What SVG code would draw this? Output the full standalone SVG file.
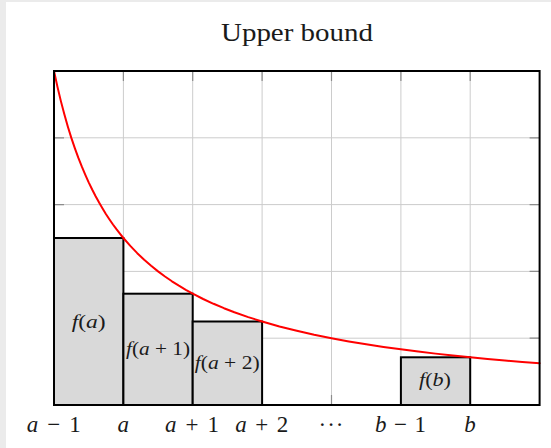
<svg xmlns="http://www.w3.org/2000/svg" width="551" height="448" viewBox="0 0 551 448">
  <style>
    .grid { stroke: #cccccc; stroke-width: 1; fill: none; }
    .tick { stroke: #8c8c8c; stroke-width: 1.2; fill: none; }
    .bar { fill: #d9d9d9; stroke: #000000; stroke-width: 2; }
    .frame { fill: none; stroke: #000000; stroke-width: 2; }
    .curve { fill: none; stroke: #ff0000; stroke-width: 2; stroke-linejoin: round; stroke-linecap: round; }
    .serif { font-family: "Liberation Serif", "DejaVu Serif", serif; fill: #1a1a1a; }
    .it { font-style: italic; }
    .lab { font-size: 23px; }
    .inner { font-size: 18px; }
  </style>
  <rect x="0" y="0" width="551" height="448" fill="#ebebeb"/>
  <rect x="6" y="2" width="545" height="446" fill="#ffffff"/>

  <text id="title" class="serif" x="221" y="41" font-size="25" textLength="152" lengthAdjust="spacingAndGlyphs">Upper bound</text>

  <g id="grid">
    <path class="grid" d="M123.4 71V405M192.7 71V405M262.1 71V405M331.5 71V405M400.9 71V405M470.2 71V405M54 137.8H539.6M54 204.6H539.6M54 271.4H539.6M54 338.2H539.6"/>
    <path class="tick" d="M123.4 71v10M192.7 71v10M262.1 71v10M331.5 71v10M400.9 71v10M470.2 71v10M123.4 405v-10M192.7 405v-10M262.1 405v-10M331.5 405v-10M400.9 405v-10M470.2 405v-10M54 137.8h10M54 204.6h10M54 271.4h10M54 338.2h10M539.6 137.8h-10M539.6 204.6h-10M539.6 271.4h-10M539.6 338.2h-10"/>
  </g>

  <g id="bar-fa">
    <rect class="bar" x="54" y="238" width="69.4" height="167"/>
    <text class="serif inner" x="88.7" y="328" text-anchor="middle" textLength="34" lengthAdjust="spacingAndGlyphs"><tspan class="it">f</tspan>(<tspan class="it">a</tspan>)</text>
  </g>
  <g id="bar-fa1">
    <rect class="bar" x="123.4" y="293.7" width="69.3" height="111.3"/>
    <text class="serif inner" x="158" y="355" text-anchor="middle" textLength="64" lengthAdjust="spacingAndGlyphs"><tspan class="it">f</tspan>(<tspan class="it">a</tspan> + 1)</text>
  </g>
  <g id="bar-fa2">
    <rect class="bar" x="192.7" y="321.5" width="69.4" height="83.5"/>
    <text class="serif inner" x="227.2" y="369" text-anchor="middle" textLength="65" lengthAdjust="spacingAndGlyphs"><tspan class="it">f</tspan>(<tspan class="it">a</tspan> + 2)</text>
  </g>
  <g id="bar-fb">
    <rect class="bar" x="400.9" y="357.3" width="69.3" height="47.7"/>
    <text class="serif inner" x="435" y="386" text-anchor="middle" textLength="32" lengthAdjust="spacingAndGlyphs"><tspan class="it">f</tspan>(<tspan class="it">b</tspan>)</text>
  </g>

  <g id="connectors">
    <polyline id="curve" class="curve" points="54,71 57.47,86.9 60.94,101.36 64.41,114.57 67.87,126.67 71.34,137.9 74.81,148.08 78.28,157.7 81.75,166.43 85.22,174.6 88.69,182.33 92.16,189.5 95.62,196.25 99.09,202.6 102.56,208.53 106.03,214.2 109.5,219.44 112.97,224.5 116.43,229.21 119.9,233.7 123.37,238 130.3,245.9 137.24,253.18 144.18,259.8 151.12,265.83 158.05,271.4 164.99,276.54 171.93,281.3 178.87,285.71 185.8,289.8 192.74,293.67 203.15,299 213.55,303.79 223.96,308.2 234.36,312.22 248.24,317.1 262.11,321.5 279.45,326.5 296.8,330.78 314.14,334.7 331.48,338.2 348.83,341.4 366.17,344.27 383.52,346.9 400.86,349.33 418.2,351.6 435.54,353.62 452.89,355.5 470.23,357.29 487.57,358.9 504.91,360.47 522.26,361.9 539.6,363.25"/>
  </g>

  <rect id="frame" class="frame" x="54" y="71" width="485.6" height="334"/>

  <g id="xlabels" class="serif lab">
    <text x="53.7" y="432" text-anchor="middle" textLength="54" lengthAdjust="spacing"><tspan class="it">a</tspan> − 1</text>
    <text x="123.3" y="432" text-anchor="middle"><tspan class="it">a</tspan></text>
    <text x="192" y="432" text-anchor="middle" textLength="54" lengthAdjust="spacing"><tspan class="it">a</tspan> + 1</text>
    <text x="261.7" y="432" text-anchor="middle" textLength="53" lengthAdjust="spacing"><tspan class="it">a</tspan> + 2</text>
    <text x="331" y="432" text-anchor="middle" textLength="25" lengthAdjust="spacing">···</text>
    <text x="400.5" y="432" text-anchor="middle" textLength="51" lengthAdjust="spacing"><tspan class="it">b</tspan> − 1</text>
    <text x="470" y="432" text-anchor="middle"><tspan class="it">b</tspan></text>
  </g>
</svg>
